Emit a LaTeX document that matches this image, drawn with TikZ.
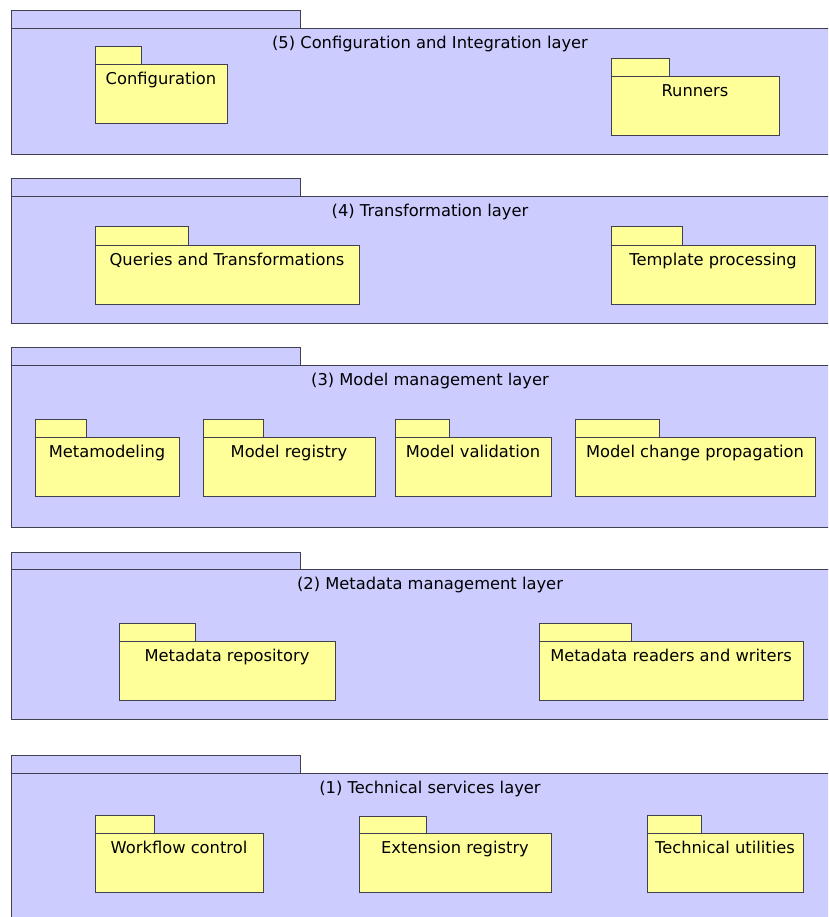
\documentclass[tikz,border=0pt]{standalone}
\usepackage{fontspec}
\setmainfont{DejaVu Sans}
\definecolor{layerfill}{HTML}{CCCCFF}
\definecolor{pkgfill}{HTML}{FFFF99}
\definecolor{edge}{HTML}{404050}
\tikzset{
  boxbase/.style={draw=edge, line width=1pt, rectangle, inner sep=0pt, outer sep=0pt, anchor=north west},
  layerbox/.style={boxbase, fill=layerfill},
  pkgbox/.style={boxbase, fill=pkgfill},
  lbl/.style={anchor=base, inner sep=0pt, font=\fontsize{16.3}{19}\selectfont, text=black}
}
% #1 style, #2 name, #3 x1, #4 tab top, #5 tab right, #6 body top, #7 body right, #8 body bottom, #9 text
\newcommand\umlpkg[9]{%
  \node[#1, minimum width={(#5-#3)*1pt}, minimum height={(#6-#4)*1pt}] (#2tab) at (#3,#4) {};
  \node[#1, minimum width={(#7-#3)*1pt}, minimum height={(#8-#6)*1pt}] (#2) at (#3,#6) {};
  \node[lbl] (#2label) at ([yshift=-20pt]#2.north) {#9};
}
\begin{document}
\begin{tikzpicture}[x=1pt,y=-1pt]
\useasboundingbox (0,0) rectangle (828,917);
\fill[white] (0,0) rectangle (828,917);
\clip (0,0) rectangle (828,917);
% Layer 5
\umlpkg{layerbox}{Lfive}{11}{11}{300}{29}{849}{155}{(5) Configuration and Integration layer}
\umlpkg{pkgbox}{cfg}{95}{47}{141}{65}{227}{124}{Configuration}
\umlpkg{pkgbox}{run}{611}{59}{669}{77}{779}{136}{Runners}
% Layer 4
\umlpkg{layerbox}{Lfour}{11}{179}{300}{197}{849}{323}{(4) Transformation layer}
\umlpkg{pkgbox}{qt}{95}{227}{188}{245}{359}{304}{Queries and Transformations}
\umlpkg{pkgbox}{tp}{611}{227}{682}{245}{815}{304}{Template processing}
% Layer 3
\umlpkg{layerbox}{Lthree}{11}{347}{300}{365}{849}{527}{(3) Model management layer}
\umlpkg{pkgbox}{meta}{35}{419}{86}{437}{179}{496}{Metamodeling}
\umlpkg{pkgbox}{mreg}{203}{419}{263}{437}{375}{496}{Model registry}
\umlpkg{pkgbox}{mval}{395}{419}{449}{437}{551}{496}{Model validation}
\umlpkg{pkgbox}{mcp}{575}{419}{659}{437}{815}{496}{Model change propagation}
% Layer 2
\umlpkg{layerbox}{Ltwo}{11}{552}{300}{569}{849}{719}{(2) Metadata management layer}
\umlpkg{pkgbox}{mrep}{119}{623}{195}{641}{335}{700}{Metadata repository}
\umlpkg{pkgbox}{mrw}{539}{623}{631}{641}{803}{700}{Metadata readers and writers}
% Layer 1
\umlpkg{layerbox}{Lone}{11}{755}{300}{773}{849}{940}{(1) Technical services layer}
\umlpkg{pkgbox}{wf}{95}{815}{154}{833}{263}{892}{Workflow control}
\umlpkg{pkgbox}{ext}{359}{816}{426}{833}{551}{892}{Extension registry}
\umlpkg{pkgbox}{tu}{647}{815}{701}{833}{803}{892}{Technical utilities}
\end{tikzpicture}
\end{document}
